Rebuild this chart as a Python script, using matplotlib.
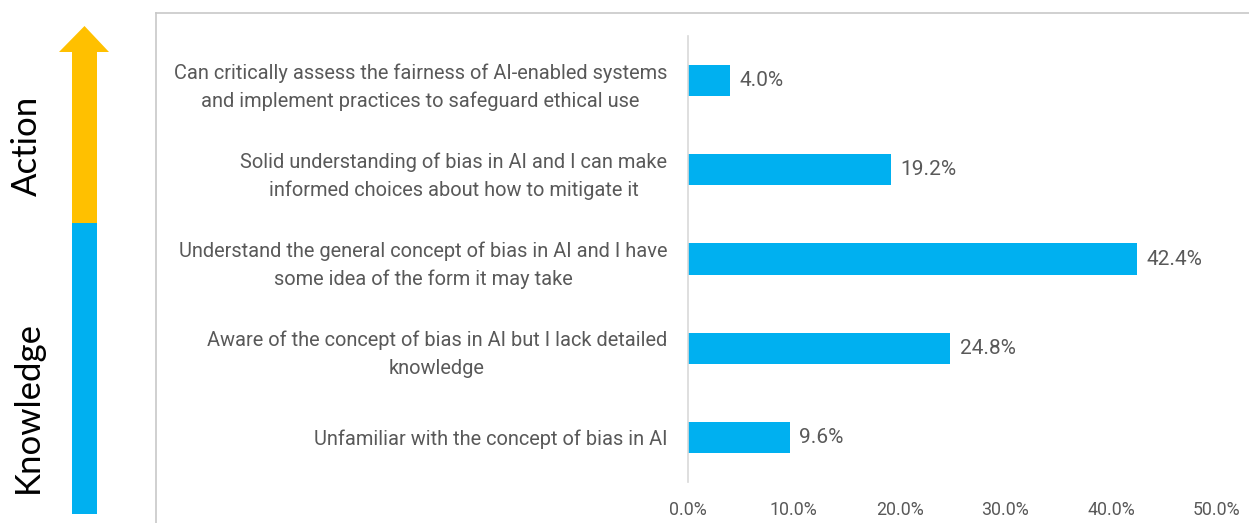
import matplotlib
matplotlib.use("Agg")
import matplotlib.pyplot as plt
from matplotlib.patches import Polygon, Rectangle
from matplotlib.lines import Line2D
from matplotlib.ticker import PercentFormatter

# ---------------------
# Data
# ---------------------
categories = [
    "Unfamiliar with the concept of bias in AI",
    "Aware of the concept of bias in AI but I lack detailed\nknowledge",
    "Understand the general concept of bias in AI and I have\nsome idea of the form it may take",
    "Solid understanding of bias in AI and I can make\ninformed choices about how to mitigate it",
    "Can critically assess the fairness of AI-enabled systems\nand implement practices to safeguard ethical use",
]
shares = [9.6, 24.8, 42.4, 19.2, 4.0]
x_ticks = [0, 10, 20, 30, 40, 50]

BAR_BLUE = "#00B0F0"
ARROW_ORANGE = "#FFC000"
TEXT_GREY = "#595959"

W, H = 1249, 523
plt.rcParams["font.family"] = ["Roboto", "DejaVu Sans"]

fig = plt.figure(figsize=(W / 100, H / 100), dpi=100)


def fx(px):
    return px / W


def fy(py):
    return 1 - py / H


# chart frame (left and top edges only are visible)
fig.add_artist(Line2D([fx(156), fx(156)], [fy(13), 0], color="#C8C8C8", lw=1.2))
fig.add_artist(Line2D([fx(156), 1], [fy(13), fy(13)], color="#C8C8C8", lw=1.2))

# knowledge -> action arrow on the left
fig.add_artist(Rectangle((fx(72), fy(514)), fx(25), fy(223) - fy(514),
                         transform=fig.transFigure, color=BAR_BLUE, lw=0))
fig.add_artist(Rectangle((fx(72), fy(223)), fx(25), fy(52) - fy(223),
                         transform=fig.transFigure, color=ARROW_ORANGE, lw=0))
fig.add_artist(Polygon([(fx(59), fy(52)), (fx(109), fy(52)), (fx(84.5), fy(26))],
                       closed=True, transform=fig.transFigure,
                       color=ARROW_ORANGE, lw=0))
fig.text(fx(27), fy(146), "Action", rotation=90, ha="center", va="center",
         fontsize=25, family=["Lato", "DejaVu Sans"], color="black")
fig.text(fx(28), fy(407), "Knowledge", rotation=90, ha="center", va="center",
         fontsize=25, family=["Lato", "DejaVu Sans"], color="black")

# ---------------------
# Bar chart
# ---------------------
ax = fig.add_axes([fx(688), fy(482), fx(1217) - fx(688), fy(36) - fy(482)])
ypos = list(range(len(categories)))
ax.barh(ypos, shares, height=0.35, color=BAR_BLUE)

for y, v in zip(ypos, shares):
    ax.text(v + 0.9, y, f"{v:.1f}%", va="center", ha="left",
            fontsize=15, color=TEXT_GREY)

ax.set_xlim(0, 50)
ax.set_ylim(-0.5, len(categories) - 0.5)
ax.set_xticks(x_ticks)
ax.xaxis.set_major_formatter(PercentFormatter(decimals=1))
ax.set_yticks(ypos)
ax.set_yticklabels(categories, fontsize=14.4, color=TEXT_GREY,
                   multialignment="center", linespacing=1.55)
ax.tick_params(axis="y", length=0, pad=15)
ax.tick_params(axis="x", length=0, pad=14, labelsize=12.8, labelcolor=TEXT_GREY)

for side in ["top", "right", "bottom"]:
    ax.spines[side].set_visible(False)
ax.spines["left"].set_color("#D9D9D9")
ax.spines["left"].set_linewidth(1.2)

fig.savefig("out.png", dpi=100)
